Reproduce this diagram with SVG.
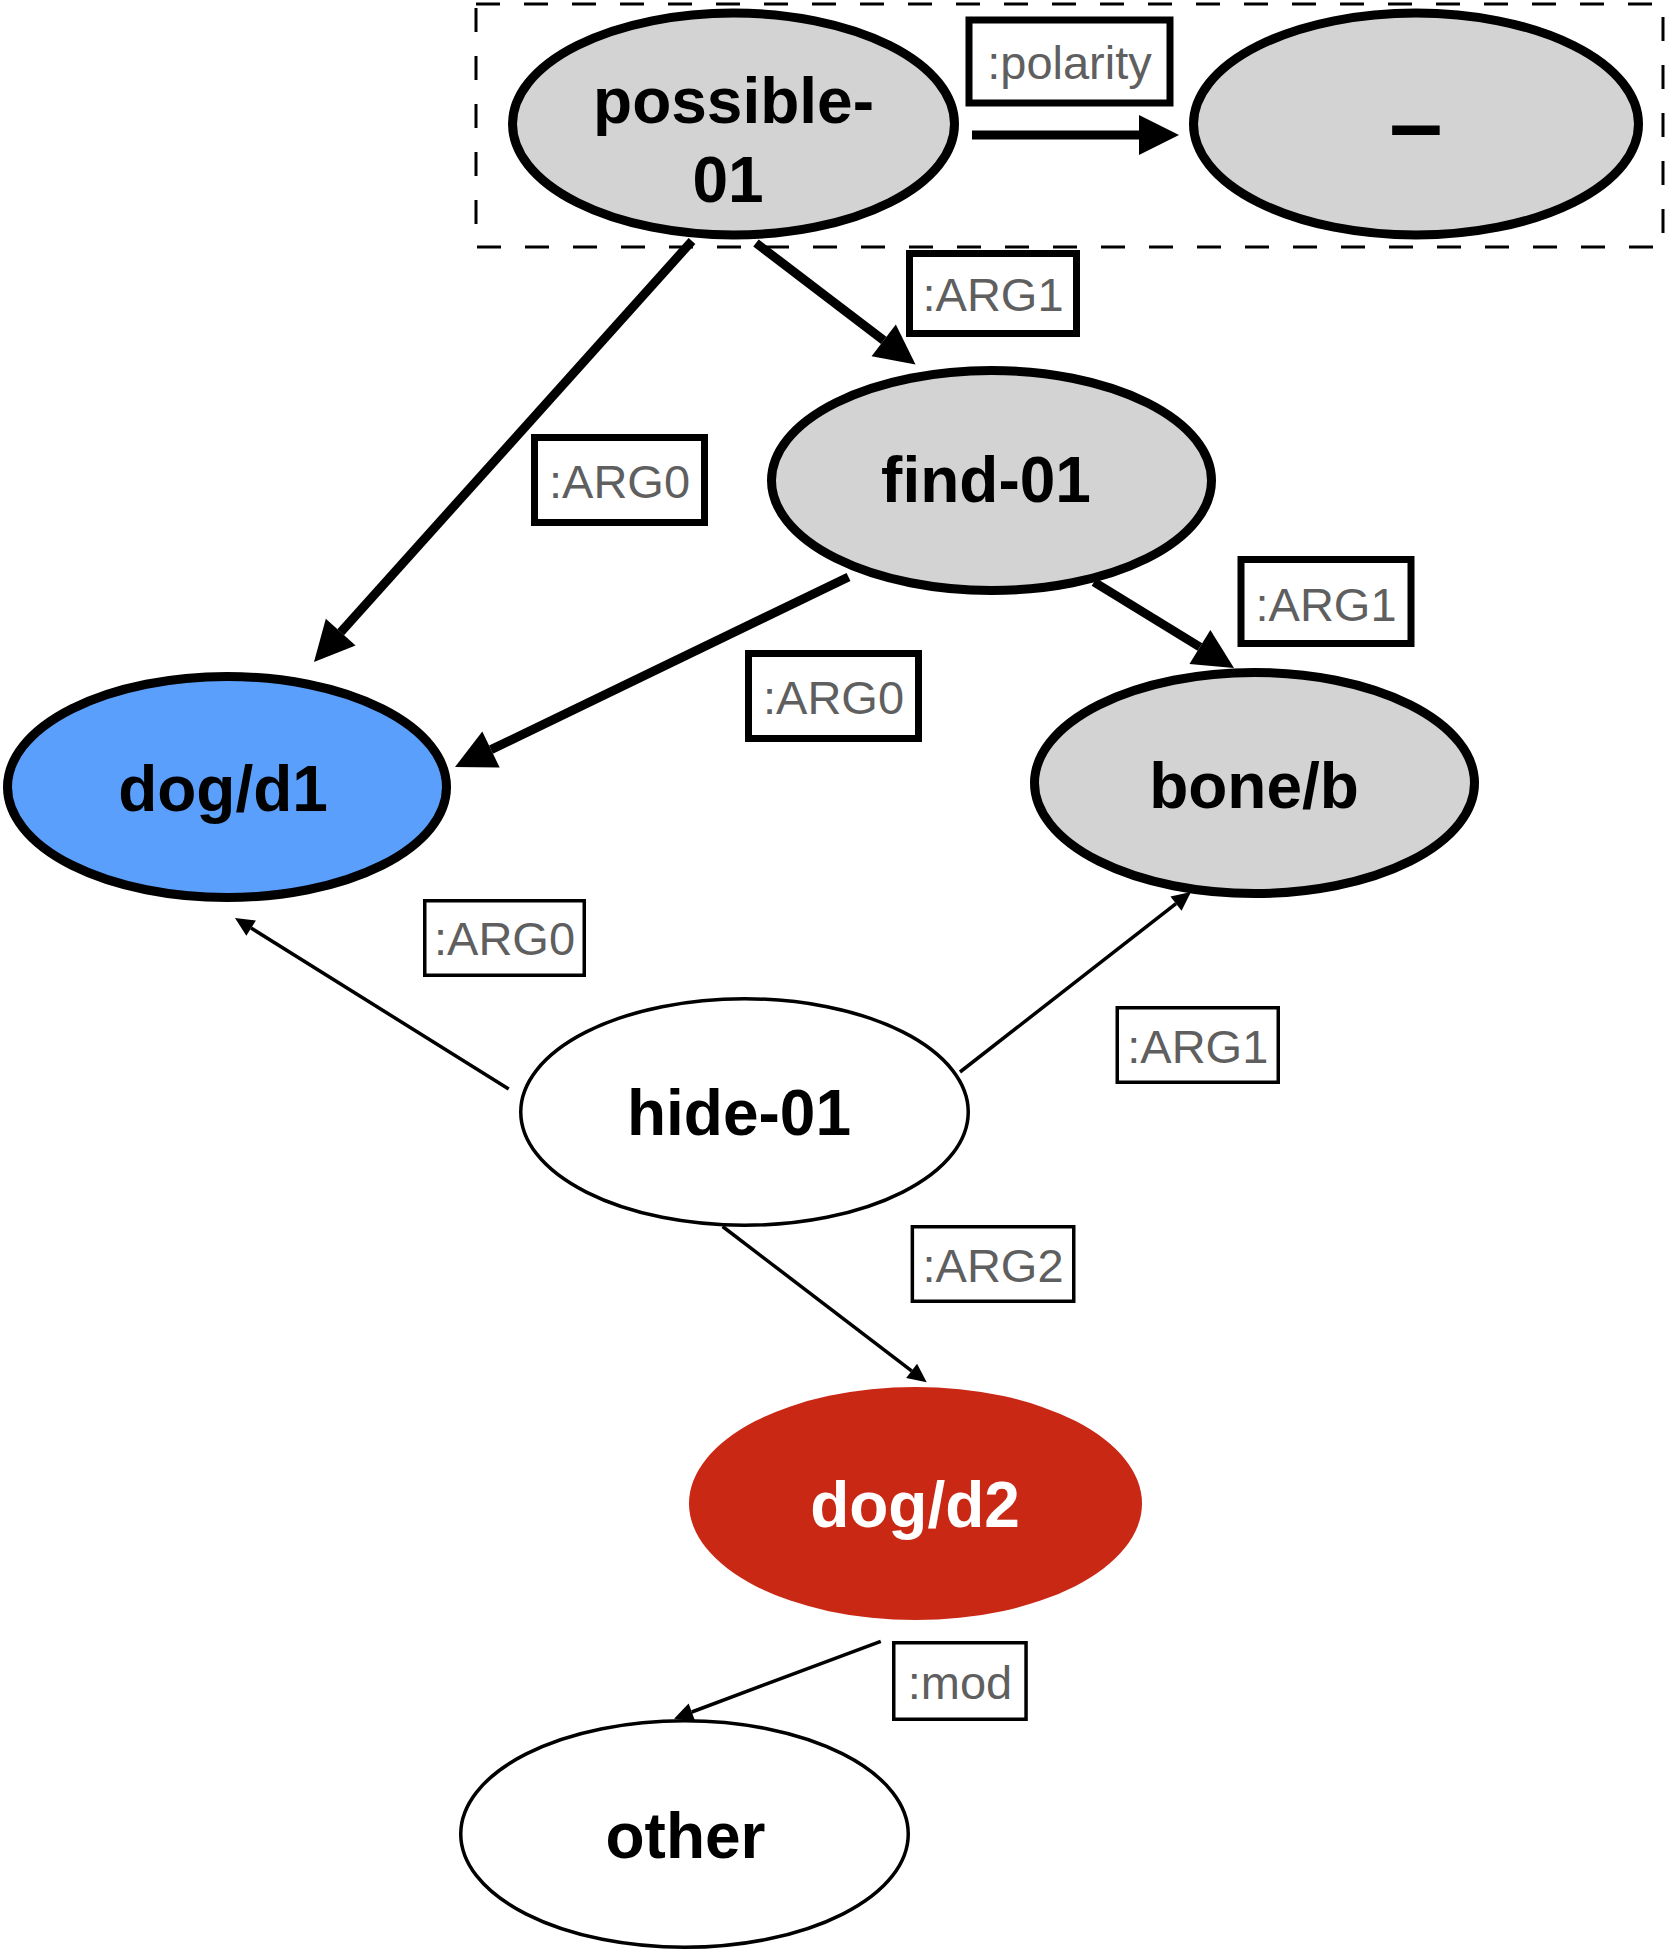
<svg xmlns="http://www.w3.org/2000/svg" width="1668" height="1952" viewBox="0 0 1668 1952">
<defs>
<style>
.node{stroke:#000;stroke-width:9}
.thin{stroke:#000;stroke-width:3.5}
.gray{fill:#d3d3d3}
.ntext{font-family:"Liberation Sans",Arial,Helvetica,sans-serif;font-weight:bold;font-size:64px;fill:#000;text-anchor:middle}
.lbl{fill:#fff;stroke:#000}
.lthick{stroke-width:7}
.lthin{stroke-width:3.5}
.ltext{font-family:"Liberation Sans",Arial,Helvetica,sans-serif;font-size:47px;fill:#5f5f5f;text-anchor:middle}
.edge{fill:none;stroke:#000;stroke-width:9}
.edge-thin{fill:none;stroke:#000;stroke-width:3.5}
</style>
<marker id="headThick" markerUnits="userSpaceOnUse" markerWidth="40" markerHeight="40" viewBox="0 -20 40 40" refX="0" refY="0" orient="auto" overflow="visible">
<path d="M0,-20 L40,0 L0,20 z" fill="#000"/>
</marker>
<marker id="headThin" markerUnits="userSpaceOnUse" markerWidth="19" markerHeight="18" viewBox="0 -9 19 18" refX="0" refY="0" orient="auto" overflow="visible">
<path d="M0,-9 L19,0 L0,9 z" fill="#000"/>
</marker>
</defs>
<rect width="1668" height="1952" fill="#fff"/>

<g id="group-box">
<rect x="476" y="4" width="1187" height="243" fill="none" stroke="#000" stroke-width="3" stroke-dasharray="24 24"/>
</g>

<g id="connectors">
<line class="edge" x1="972" y1="135" x2="1139" y2="135" marker-end="url(#headThick)"/>
<line class="edge" x1="692" y1="241" x2="340.7" y2="632.2" marker-end="url(#headThick)"/>
<line class="edge" x1="756" y1="243" x2="883.7" y2="340.3" marker-end="url(#headThick)"/>
<line class="edge" x1="848.5" y1="577" x2="491" y2="749.6" marker-end="url(#headThick)"/>
<line class="edge" x1="1094" y1="582" x2="1199.9" y2="647" marker-end="url(#headThick)"/>
<line class="edge-thin" x1="508.7" y1="1089" x2="251.1" y2="928.1" marker-end="url(#headThin)"/>
<line class="edge-thin" x1="960" y1="1072" x2="1176" y2="903.7" marker-end="url(#headThin)"/>
<line class="edge-thin" x1="722.6" y1="1226.5" x2="911.6" y2="1370.8" marker-end="url(#headThin)"/>
<line class="edge-thin" x1="880.8" y1="1641.3" x2="691.8" y2="1712" marker-end="url(#headThin)"/>
</g>

<g id="edge-labels">
<g id="label-polarity"><rect class="lbl lthick" x="969" y="20" width="201" height="83"/><text class="ltext" x="1069.5" y="78.5">:polarity</text></g>
<g id="label-possible-find"><rect class="lbl lthick" x="909.5" y="253.5" width="167" height="80"/><text class="ltext" x="993" y="311">:ARG1</text></g>
<g id="label-possible-dog1"><rect class="lbl lthick" x="534.5" y="437.5" width="170" height="85"/><text class="ltext" x="619.5" y="498">:ARG0</text></g>
<g id="label-find-dog1"><rect class="lbl lthick" x="748.5" y="653.5" width="170" height="85"/><text class="ltext" x="833.5" y="714">:ARG0</text></g>
<g id="label-find-bone"><rect class="lbl lthick" x="1241" y="559.5" width="170" height="84"/><text class="ltext" x="1326" y="621">:ARG1</text></g>
<g id="label-hide-dog1"><rect class="lbl lthin" x="424.75" y="900.75" width="159.5" height="74.5"/><text class="ltext" x="504.5" y="954.6">:ARG0</text></g>
<g id="label-hide-bone"><rect class="lbl lthin" x="1117.25" y="1007.75" width="161" height="74.5"/><text class="ltext" x="1197.75" y="1063">:ARG1</text></g>
<g id="label-hide-dog2"><rect class="lbl lthin" x="912.35" y="1226.75" width="161.4" height="74.5"/><text class="ltext" x="993" y="1282">:ARG2</text></g>
<g id="label-dog2-other"><rect class="lbl lthin" x="893.75" y="1642.75" width="132.3" height="76.5"/><text class="ltext" x="960" y="1698.7">:mod</text></g>
</g>

<g id="node-possible-01">
<ellipse class="node gray" cx="733.5" cy="124" rx="221" ry="111"/>
<text class="ntext" x="733.5" y="123">possible-</text>
<text class="ntext" x="728" y="202">01</text>
</g>
<g id="node-minus">
<ellipse class="node gray" cx="1416" cy="124" rx="222.5" ry="111"/>
<text class="ntext" x="1416" y="155.5" style="font-size:96px">–</text>
</g>
<g id="node-find-01">
<ellipse class="node gray" cx="991.5" cy="480.5" rx="220" ry="110"/>
<text class="ntext" x="986" y="502">find-01</text>
</g>
<g id="node-dog-d1">
<ellipse class="node" fill="#5b9ffc" cx="227" cy="787" rx="219.5" ry="110.5"/>
<text class="ntext" x="223" y="811">dog/d1</text>
</g>
<g id="node-bone-b">
<ellipse class="node gray" cx="1254.5" cy="783" rx="220" ry="110.5"/>
<text class="ntext" x="1254" y="808">bone/b</text>
</g>
<g id="node-hide-01">
<ellipse class="thin" fill="#fff" cx="744.5" cy="1112" rx="223.75" ry="113.25"/>
<text class="ntext" x="739" y="1135">hide-01</text>
</g>
<g id="node-dog-d2">
<ellipse fill="#c92815" cx="915.5" cy="1503.5" rx="226.5" ry="116.5"/>
<text class="ntext" x="915" y="1527" style="fill:#fff">dog/d2</text>
</g>
<g id="node-other">
<ellipse class="thin" fill="#fff" cx="684.5" cy="1834" rx="223.75" ry="113.25"/>
<text class="ntext" x="685.5" y="1858">other</text>
</g>
</svg>
